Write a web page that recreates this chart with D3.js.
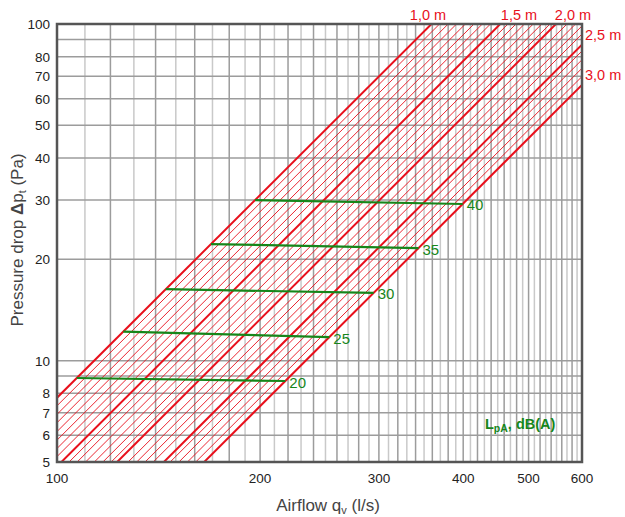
<!DOCTYPE html>
<html><head><meta charset="utf-8">
<script src="https://cdn.jsdelivr.net/npm/d3@7"></script>
<style>body{margin:0;background:#fff}svg{display:block;font-family:"Liberation Sans",Arial,sans-serif}</style>
</head><body><svg id="c" width="625" height="517"></svg>
<script>
// ---- data ----
const xTicks = [100, 200, 300, 400, 500, 600];
const yTicks = [5, 6, 7, 8, 10, 20, 30, 40, 50, 60, 70, 80, 100];
const yGridValues = [5, 6, 7, 8, 9, 10, 20, 30, 40, 50, 60, 70, 80, 90, 100];
const xGridValues = d3.range(100, 601, 10);
// bold length lines: airflow (l/s) at which each line reaches 100 Pa
const lengthLabels = ["1,0 m", "1,5 m", "2,0 m", "2,5 m", "3,0 m"];
const boldAirflowAt100Pa = [359, 454, 549, 644, 739];
// thin hatch lines filling the band (airflow at 100 Pa)
const thinAirflowAt100Pa = [369, 380, 391, 403, 415, 427, 439, 466, 479, 493, 508, 523,
  538, 570, 587, 604, 621, 658, 678, 698, 718];
// sound level lines LpA
const soundLevels = [20, 25, 30, 35, 40];
const soundStartDp = [8.88, 12.2, 16.3, 22.2, 30.0];  // on the 1,0 m line
const soundEndDp = [8.70, 11.75, 15.9, 21.6, 29.2];   // on the 3,0 m line

// ---- layout ----
const L = 57, R = 582, T = 24, B = 462;
const RED = "#e8101c", GREEN = "#16861a";
const svg = d3.select("#c");
const x = d3.scaleLog().domain([100, 600]).range([L, R]);
const y = d3.scaleLog().domain([5, 100]).range([B, T]);

svg.append("defs").append("clipPath").attr("id", "clip")
  .append("rect").attr("x", L).attr("y", T).attr("width", R - L).attr("height", B - T);

// grid
const grid = svg.append("g");
grid.selectAll("line.v").data(xGridValues).join("line")
  .attr("x1", d => x(d)).attr("x2", d => x(d)).attr("y1", T).attr("y2", B)
  .attr("stroke", (d, i) => i % 2 === 0 ? "#9c9c9c" : "#c9c9c9").attr("stroke-width", 1.5);
grid.selectAll("line.h").data(yGridValues).join("line")
  .attr("y1", d => y(d)).attr("y2", d => y(d)).attr("x1", L).attr("x2", R)
  .attr("stroke", "#9c9c9c").attr("stroke-width", 1.5);

// red lines (dp proportional to q^2)
const qRange = [50, 1200];
const redLine = q100 => d3.line().x(d => x(d)).y(d => y(100 * (d / q100) ** 2))(qRange);
const red = svg.append("g").attr("clip-path", "url(#clip)");
red.selectAll("path.thin").data(thinAirflowAt100Pa).join("path")
  .attr("d", redLine).attr("fill", "none").attr("stroke", RED).attr("stroke-width", 0.9);
red.selectAll("path.bold").data(boldAirflowAt100Pa).join("path")
  .attr("d", redLine).attr("fill", "none").attr("stroke", RED).attr("stroke-width", 2);

// green sound lines
const q1 = boldAirflowAt100Pa[0], q3 = boldAirflowAt100Pa[4];
const gl = svg.append("g");
soundLevels.forEach((lv, i) => {
  const xs = x(q1 * Math.sqrt(soundStartDp[i] / 100)), ys = y(soundStartDp[i]);
  const xe = x(q3 * Math.sqrt(soundEndDp[i] / 100)), ye = y(soundEndDp[i]);
  gl.append("line").attr("x1", xs).attr("y1", ys).attr("x2", xe).attr("y2", ye)
    .attr("stroke", GREEN).attr("stroke-width", 2.2);
  gl.append("text").attr("x", xe + 4).attr("y", ye + 6.5).attr("font-size", 15)
    .attr("fill", GREEN).text(lv);
});

// border
svg.append("rect").attr("x", L).attr("y", T).attr("width", R - L).attr("height", B - T)
  .attr("fill", "none").attr("stroke", "#555").attr("stroke-width", 2.5);

// tick labels
svg.append("g").selectAll("text").data(yTicks).join("text")
  .attr("x", 50).attr("y", d => y(d) + 5).attr("text-anchor", "end")
  .attr("font-size", 13.5).attr("fill", "#222").text(d => d);
svg.append("g").selectAll("text").data(xTicks).join("text")
  .attr("x", d => x(d)).attr("y", 483).attr("text-anchor", "middle")
  .attr("font-size", 13.5).attr("fill", "#222").text(d => d);

// length labels
const lab = svg.append("g").attr("fill", RED).attr("font-size", 14.5);
[0, 1, 2].forEach(i => {
  lab.append("text").attr("x", [428, 519, 573][i]).attr("y", 20).attr("text-anchor", "middle").text(lengthLabels[i]);
});
[3, 4].forEach(i => {
  const ye = y(100 * (600 / boldAirflowAt100Pa[i]) ** 2);
  lab.append("text").attr("x", 585).attr("y", ye - 5).text(lengthLabels[i]);
});

// LpA label
const lp = svg.append("text").attr("x", 485).attr("y", 429).attr("font-size", 14.5)
  .attr("font-weight", "bold").attr("fill", GREEN);
lp.append("tspan").text("L");
lp.append("tspan").attr("font-size", 10.5).attr("dy", 3).text("pA");
lp.append("tspan").attr("dy", -3).text(", dB(A)");

// axis titles
const xt = svg.append("text").attr("x", 328).attr("y", 511).attr("text-anchor", "middle")
  .attr("font-size", 17).attr("fill", "#444");
xt.append("tspan").text("Airflow q");
xt.append("tspan").attr("font-size", 11).attr("dy", 3).text("v");
xt.append("tspan").attr("dy", -3).text(" (l/s)");

const yt = svg.append("text").attr("transform", "translate(23,240) rotate(-90)")
  .attr("text-anchor", "middle").attr("font-size", 17).attr("fill", "#444");
yt.append("tspan").text("Pressure drop ");
yt.append("tspan").attr("font-weight", "bold").text("Δ");
yt.append("tspan").text("p");
yt.append("tspan").attr("font-size", 11).attr("dy", 3).text("t");
yt.append("tspan").attr("dy", -3).text(" (Pa)");
</script></body></html>
